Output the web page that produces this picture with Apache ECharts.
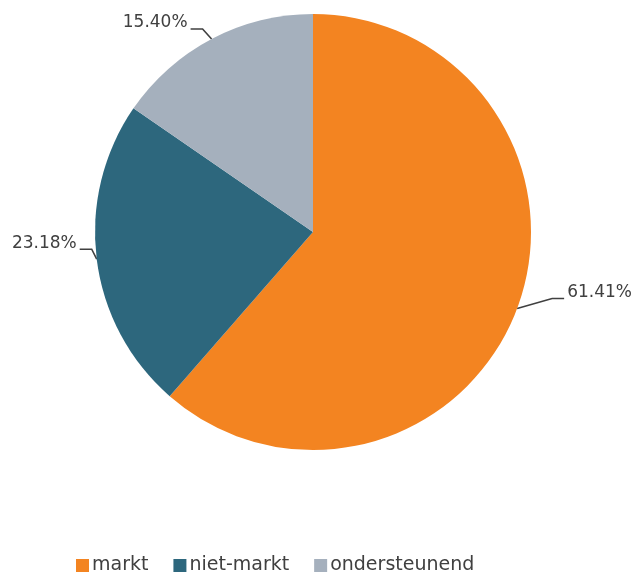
<!DOCTYPE html>
<html><head><meta charset="utf-8">
<script src="https://cdn.jsdelivr.net/npm/echarts@6/dist/echarts.min.js"></script>
<style>html,body{margin:0;padding:0;background:#fff}#c{width:637px;height:574px}</style>
</head><body><div id="c"></div>
<script>
const categories = ['markt', 'niet-markt', 'ondersteunend'];
const values = [61.41, 23.18, 15.40];
const colors = ['#F38421', '#2D677D', '#A5B0BD'];

// leader-line styling: horizontal run of the first (diagonal) segment per slice
const leaderRun = [35, 5, 9];
const leaderRise = 10, leaderTail = 12, textGap = 3, textLift = 6;

const chart = echarts.init(document.getElementById('c'));
chart.setOption({
  animation: false,
  color: colors,
  legend: {
    top: 551,
    left: 71,
    icon: 'rect',
    itemWidth: 13,
    itemHeight: 13,
    itemGap: 25,
    textStyle: {fontFamily: 'DejaVu Sans', fontSize: 19, color: '#404040', padding: [0, 0, 0, -2]},
    data: categories
  },
  series: [{
    type: 'pie',
    center: [313, 232],
    radius: 218,
    startAngle: 90,
    clockwise: true,
    data: categories.map((c, i) => ({name: c, value: values[i]})),
    label: {
      formatter: p => p.value.toFixed(2) + '%',
      fontFamily: 'DejaVu Sans',
      fontSize: 17,
      color: '#404040',
      overflow: 'none'
    },
    labelLine: {length: 8, length2: 12, lineStyle: {color: '#404040', width: 1.6}},
    labelLayout: function (params) {
      const pts = params.labelLinePoints;
      if (!pts) return {};
      const p0 = pts[0];
      const s = (pts[2][0] - pts[1][0]) >= 0 ? 1 : -1;
      const hy = p0[1] - leaderRise;
      const p1 = [p0[0] + s * leaderRun[params.dataIndex], hy];
      const p2 = [p1[0] + s * leaderTail, hy];
      const tx = p2[0] + s * textGap;
      return {
        x: tx,
        y: hy - textLift,
        align: s > 0 ? 'left' : 'right',
        verticalAlign: 'middle',
        labelLinePoints: [p0, p1, p2]
      };
    },
    itemStyle: {borderWidth: 0}
  }]
});
</script></body></html>
